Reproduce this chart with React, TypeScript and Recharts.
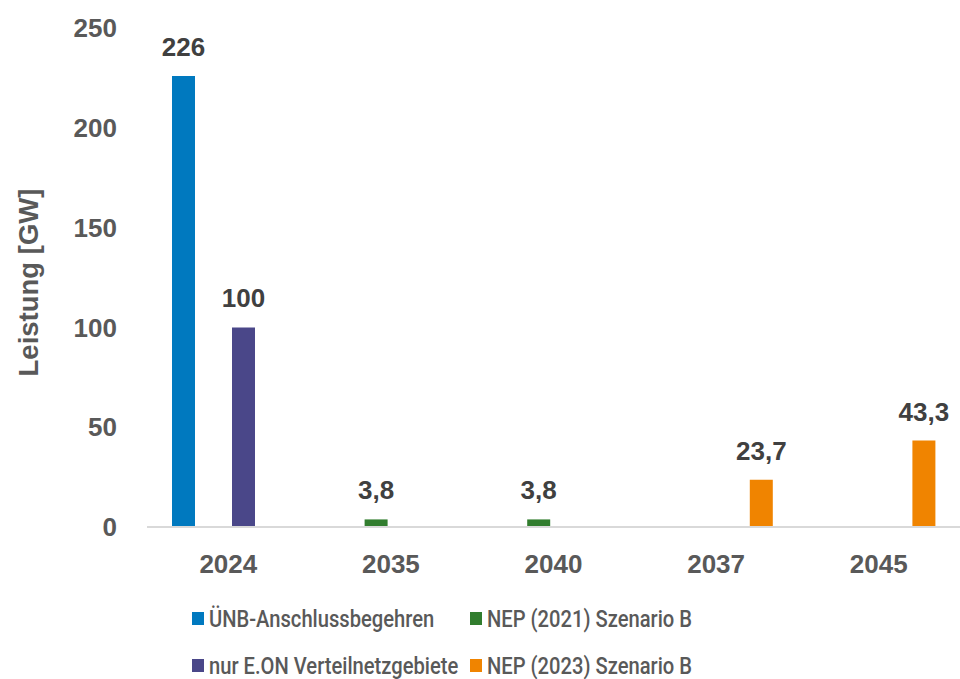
import * as React from 'react';
import { BarChart, Bar, XAxis, YAxis, Legend, LabelList } from 'recharts';

const categories = ['2024', '2035', '2040', '2037', '2045'];
const uenbValues = [226, null, null, null, null];
const nep2021Values = [null, 3.8, 3.8, null, null];
const eonValues = [100, null, null, null, null];
const nep2023Values = [null, null, null, 23.7, 43.3];
const yTicks = [0, 50, 100, 150, 200, 250];

const seriesNames = {
    uenb: 'ÜNB-Anschlussbegehren',
    nep2021: 'NEP (2021) Szenario B',
    eon: 'nur E.ON Verteilnetzgebiete',
    nep2023: 'NEP (2023) Szenario B',
};
// legend reads row by row, two columns
const legendOrder = ['uenb', 'nep2021', 'eon', 'nep2023'];

const data = categories.map((year, i) => ({
    year,
    uenb: uenbValues[i],
    nep2021: nep2021Values[i],
    eon: eonValues[i],
    nep2023: nep2023Values[i],
}));

const FONT = '"Liberation Sans", Arial, sans-serif';
const AXIS_GREY = '#595959';

const fmt = (v: any) => (v == null ? '' : String(v).replace('.', ','));

const AxisTitle = (props: any) => {
    const vb = props.viewBox || { x: 0, y: 0, height: 0 };
    const cx = vb.x + 28;
    const cy = vb.y + vb.height / 2 + 5;
    return (
        <text
            x={cx}
            y={cy}
            transform={`rotate(-90, ${cx}, ${cy})`}
            textAnchor="middle"
            dominantBaseline="central"
            fill={AXIS_GREY}
            fontSize={27.5}
            fontWeight="bold"
            fontFamily={FONT}
        >
            Leistung [GW]
        </text>
    );
};

const LegendBox = (props: any) => {
    const payload = props.payload || [];
    const items = legendOrder
        .map((key) => payload.find((p: any) => p.dataKey === key))
        .filter(Boolean);
    return (
        <div
            style={{
                display: 'grid',
                gridTemplateColumns: '278px auto',
                gridAutoRows: '47px',
                fontFamily: 'Roboto, sans-serif',
                fontWeight: 500,
                fontSize: 24,
                color: AXIS_GREY,
            }}
        >
            {items.map((item: any) => (
                <div key={item.dataKey} style={{ display: 'flex', alignItems: 'center', whiteSpace: 'nowrap' }}>
                    <span style={{ width: 12, height: 13, background: item.color, marginRight: 5, flex: 'none' }} />
                    <span style={{ display: 'inline-block', transform: 'scaleX(0.84)', transformOrigin: 'left center' }}>
                        {item.value}
                    </span>
                </div>
            ))}
        </div>
    );
};

const labelStyle = { fontSize: 26, fontWeight: 'bold', fill: '#404040', fontFamily: FONT };

export default function App() {
    return (
        <div style={{ position: 'absolute', left: 0, top: 0, width: 960, height: 679, background: '#fff' }}>
            <BarChart
                width={960}
                height={679}
                data={data}
                margin={{ top: 28, right: 0, left: 0, bottom: 92 }}
                barSize={23}
                barGap={7}
            >
                <XAxis
                    dataKey="year"
                    axisLine={{ stroke: '#d9d9d9', strokeWidth: 2 }}
                    tickLine={false}
                    tickSize={0}
                    tickMargin={28}
                    height={60}
                    tick={{ fontSize: 26, fontWeight: 'bold', fill: AXIS_GREY, fontFamily: FONT }}
                />
                <YAxis
                    width={147}
                    domain={[0, 250]}
                    ticks={yTicks}
                    axisLine={false}
                    tickLine={false}
                    tickSize={0}
                    tickMargin={30}
                    tick={{ fontSize: 26, fontWeight: 'bold', fill: AXIS_GREY, fontFamily: FONT }}
                    label={<AxisTitle />}
                />
                <Legend
                    layout="horizontal"
                    verticalAlign="middle"
                    align="center"
                    wrapperStyle={{ top: 595, left: 192, width: 700 }}
                    content={<LegendBox />}
                />
                <Bar dataKey="uenb" name={seriesNames.uenb} fill="#0079BF" isAnimationActive={false}>
                    <LabelList dataKey="uenb" position="top" offset={20} formatter={fmt} style={labelStyle} />
                </Bar>
                <Bar dataKey="nep2021" name={seriesNames.nep2021} fill="#317D2E" isAnimationActive={false}>
                    <LabelList dataKey="nep2021" position="top" offset={20} formatter={fmt} style={labelStyle} />
                </Bar>
                <Bar dataKey="eon" name={seriesNames.eon} fill="#4A4789" isAnimationActive={false}>
                    <LabelList dataKey="eon" position="top" offset={20} formatter={fmt} style={labelStyle} />
                </Bar>
                <Bar dataKey="nep2023" name={seriesNames.nep2023} fill="#F08400" isAnimationActive={false}>
                    <LabelList dataKey="nep2023" position="top" offset={20} formatter={fmt} style={labelStyle} />
                </Bar>
            </BarChart>
        </div>
    );
}
